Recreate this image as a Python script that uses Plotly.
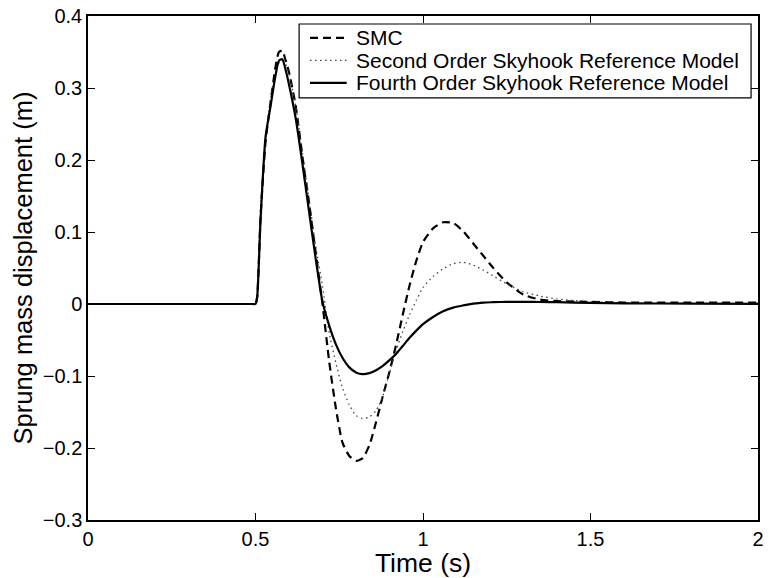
import plotly.graph_objects as go

# Time samples (s)
time_s = [0, 0.25, 0.45, 0.49, 0.5, 0.505, 0.515, 0.53, 0.545, 0.56, 0.57, 0.58, 0.59, 0.60, 0.62,
          0.64, 0.66, 0.68, 0.70, 0.72, 0.74, 0.76, 0.78, 0.80, 0.82, 0.84, 0.86, 0.88, 0.90, 0.92,
          0.94, 0.96, 0.98, 1.00, 1.03, 1.06, 1.09, 1.12, 1.15, 1.18, 1.21, 1.25, 1.30, 1.35, 1.40,
          1.50, 1.60, 1.80, 2.0]

smc = [0, 0, 0, 0, 0, 0.010, 0.120, 0.225, 0.280, 0.330, 0.350, 0.352, 0.338, 0.322, 0.275, 0.205,
       0.140, 0.070, 0.000, -0.080, -0.145, -0.193, -0.211, -0.218, -0.214, -0.196, -0.164, -0.128,
       -0.094, -0.056, -0.014, 0.026, 0.060, 0.086, 0.105, 0.1135, 0.1125, 0.101, 0.084, 0.067,
       0.050, 0.030, 0.013, 0.006, 0.004, 0.003, 0.002, 0.002, 0.002]

second_order = [0, 0, 0, 0, 0, 0.012, 0.130, 0.225, 0.285, 0.322, 0.335, 0.338, 0.333, 0.320, 0.275,
                0.210, 0.145, 0.080, 0.025, -0.040, -0.082, -0.117, -0.140, -0.155, -0.159, -0.157,
                -0.148, -0.128, -0.096, -0.064, -0.038, -0.015, 0.005, 0.023, 0.038, 0.049, 0.056,
                0.058, 0.054, 0.047, 0.039, 0.028, 0.017, 0.011, 0.007, 0.003, 0.0015, 0.001, 0.001]

fourth_order = [0, 0, 0, 0, 0, 0.010, 0.116, 0.232, 0.275, 0.318, 0.338, 0.340, 0.325, 0.305, 0.258,
                0.195, 0.128, 0.062, 0.003, -0.030, -0.056, -0.075, -0.088, -0.095, -0.0975, -0.096,
                -0.092, -0.086, -0.078, -0.069, -0.058, -0.047, -0.037, -0.028, -0.018, -0.010,
                -0.005, -0.002, 0.0005, 0.002, 0.0025, 0.003, 0.003, 0.0028, 0.0025, 0.0015, 0.001,
                0.0005, 0.0002]

series_names = ["SMC", "Second Order Skyhook Reference Model", "Fourth Order Skyhook Reference Model"]

x_ticks = [0, 0.5, 1, 1.5, 2]
x_tick_labels = ["0", "0.5", "1", "1.5", "2"]
y_ticks = [-0.3, -0.2, -0.1, 0, 0.1, 0.2, 0.3, 0.4]
y_tick_labels = ["\u22120.3", "\u22120.2", "\u22120.1", "0", "0.1", "0.2", "0.3", "0.4"]

font_family = "Liberation Sans, Arial, sans-serif"

W, H = 769, 578
ML, MR, MT, MB = 88, 5, 15, 58
PW, PH = W - ML - MR, H - MT - MB


def px_x(px):
    return (px - ML) / PW


def px_y(py):
    return (H - MB - py) / PH


line_styles = [
    dict(color="black", width=2.2, dash="8px,5px"),
    dict(color="#444444", width=1.3, dash="1.5px,3.5px"),
    dict(color="black", width=2.2),
]
series_values = [smc, second_order, fourth_order]

fig = go.Figure()
for name, vals, st in zip(series_names, series_values, line_styles):
    fig.add_trace(go.Scatter(x=time_s, y=vals, mode="lines", name=name,
                             line=dict(st, shape="spline", smoothing=0.6), showlegend=False))

axis_common = dict(showgrid=False, zeroline=False, showline=True, linecolor="black", linewidth=1.5,
                   mirror="ticks", ticks="inside", ticklen=7, tickwidth=1, tickcolor="black",
                   tickfont=dict(family=font_family, size=20, color="black"))

# Legend box drawn as in the MATLAB figure
shapes = [dict(type="rect", xref="paper", yref="paper", x0=px_x(301), x1=px_x(757),
               y0=px_y(97), y1=px_y(23), line=dict(color="black", width=1.2), fillcolor="white",
               layer="above")]
annotations = []
row_y = [37, 59.5, 82]
for name, st, ry in zip(series_names, line_styles, row_y):
    shapes.append(dict(type="line", xref="paper", yref="paper", x0=px_x(312), x1=px_x(349),
                       y0=px_y(ry), y1=px_y(ry), line=st, layer="above"))
    annotations.append(dict(text=name, xref="paper", yref="paper", x=px_x(356), y=px_y(ry),
                            xanchor="left", yanchor="middle", showarrow=False,
                            font=dict(family=font_family, size=21, color="black")))

fig.update_layout(
    width=W, height=H,
    margin=dict(l=ML, r=MR, t=MT, b=MB),
    paper_bgcolor="white", plot_bgcolor="white",
    font=dict(family=font_family, color="black"),
    xaxis=dict(range=[0, 2], tickvals=x_ticks, ticktext=x_tick_labels,
               title=dict(text="Time (s)", font=dict(size=26.5), standoff=1), **axis_common),
    yaxis=dict(range=[-0.3, 0.4], tickvals=y_ticks, ticktext=y_tick_labels,
               title=dict(text="Sprung mass displacement (m)", font=dict(size=25.5), standoff=3),
               **axis_common),
    shapes=shapes,
    annotations=annotations,
    showlegend=False,
)

fig.write_html("out.html")
